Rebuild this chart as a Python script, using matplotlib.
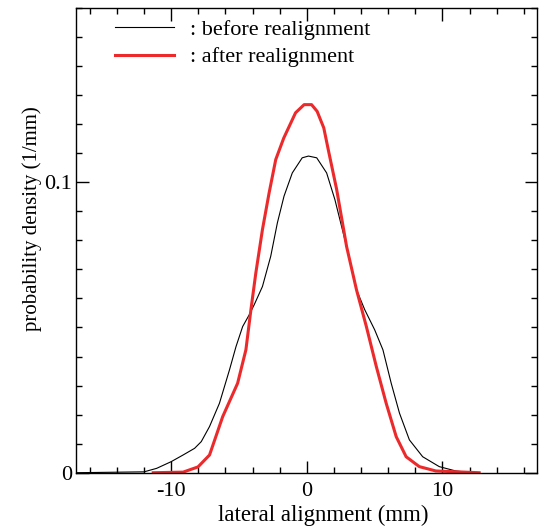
import matplotlib
matplotlib.use("Agg")
import matplotlib.pyplot as plt
from matplotlib.ticker import MultipleLocator, FixedLocator

plt.rcParams['font.family'] = ['Liberation Serif', 'DejaVu Serif']
plt.rcParams['axes.unicode_minus'] = False

# lateral alignment (mm) vs probability density (1/mm)
before_x = [-17.0, -12.0, -11.07, -10.0, -9.12, -8.27, -7.78, -7.17, -6.44, -5.7,
            -5.22, -4.73, -4.24, -3.88, -3.27, -2.66, -2.17, -1.68, -1.07, -0.34,
            0.12, 0.73, 1.46, 2.07, 2.93, 3.66, 4.27, 5.0, 5.61, 6.22,
            6.83, 7.56, 8.54, 9.76, 10.98, 11.95]
before_y = [0.0, 0.0003, 0.0015, 0.0038, 0.0061, 0.0084, 0.0107, 0.0159, 0.0239, 0.0354,
            0.0434, 0.0503, 0.0544, 0.0578, 0.0641, 0.0745, 0.086, 0.0952, 0.1032, 0.1084,
            0.109, 0.1084, 0.1032, 0.094, 0.0779, 0.063, 0.0561, 0.0492, 0.0423, 0.0308,
            0.0205, 0.0113, 0.0055, 0.0021, 0.0006, 0.0001]

after_x = [-11.32, -9.12, -8.02, -7.17, -6.2, -5.1, -4.49, -4.12, -3.76, -3.27,
           -2.78, -2.29, -1.7, -0.83, -0.2, 0.35, 0.76, 1.25, 1.59, 2.2,
           2.93, 3.66, 4.39, 5.12, 5.85, 6.59, 7.32, 8.29, 9.51, 12.7]
after_y = [0.0, 0.0002, 0.002, 0.0061, 0.0193, 0.0308, 0.0423, 0.0561, 0.0687, 0.0837,
           0.0963, 0.1078, 0.1152, 0.1239, 0.1267, 0.1267, 0.1244, 0.1187, 0.111, 0.0975,
           0.0779, 0.063, 0.0503, 0.0366, 0.0239, 0.0124, 0.0055, 0.0021, 0.0006, 0.0]

fig = plt.figure(figsize=(5.44, 5.27), dpi=100)
ax = fig.add_axes([0.140, 0.103, 0.848, 0.882])

ax.plot(before_x, before_y, color='black', lw=0.8, label=': before realignment')
ax.plot(after_x, after_y, color='#ec2a2c', lw=2.2, label=': after realignment')

ax.set_xlim(-17, 17)
ax.set_ylim(0, 0.16)
ax.xaxis.set_major_locator(FixedLocator([-10, 0, 10]))
ax.xaxis.set_minor_locator(MultipleLocator(2))
ax.yaxis.set_major_locator(FixedLocator([0, 0.1]))
ax.yaxis.set_minor_locator(MultipleLocator(0.01))
ax.set_yticklabels(['0', '0.1'])
ax.tick_params(which='both', direction='in', top=True, right=True, labelsize=16, width=1.0)
ax.tick_params(which='major', length=9)
ax.tick_params(which='minor', length=4)
ax.tick_params(axis='x', which='major', pad=7)
ax.tick_params(axis='y', which='major', pad=3)
for s in ax.spines.values():
    s.set_linewidth(1.0)

ax.set_xlabel('lateral alignment (mm)', fontsize=16.5)
ax.xaxis.set_label_coords(0.536, -0.07)
ax.set_ylabel('probability density (1/mm)', fontsize=15)
ax.yaxis.set_label_coords(-0.074, 0.546)

ax.legend(loc='upper left', bbox_to_anchor=(0.040, 1.018), frameon=False, fontsize=16,
          handlelength=2.67, handletextpad=0.7, labelspacing=0.3)

fig.savefig('out.png', dpi=100)
